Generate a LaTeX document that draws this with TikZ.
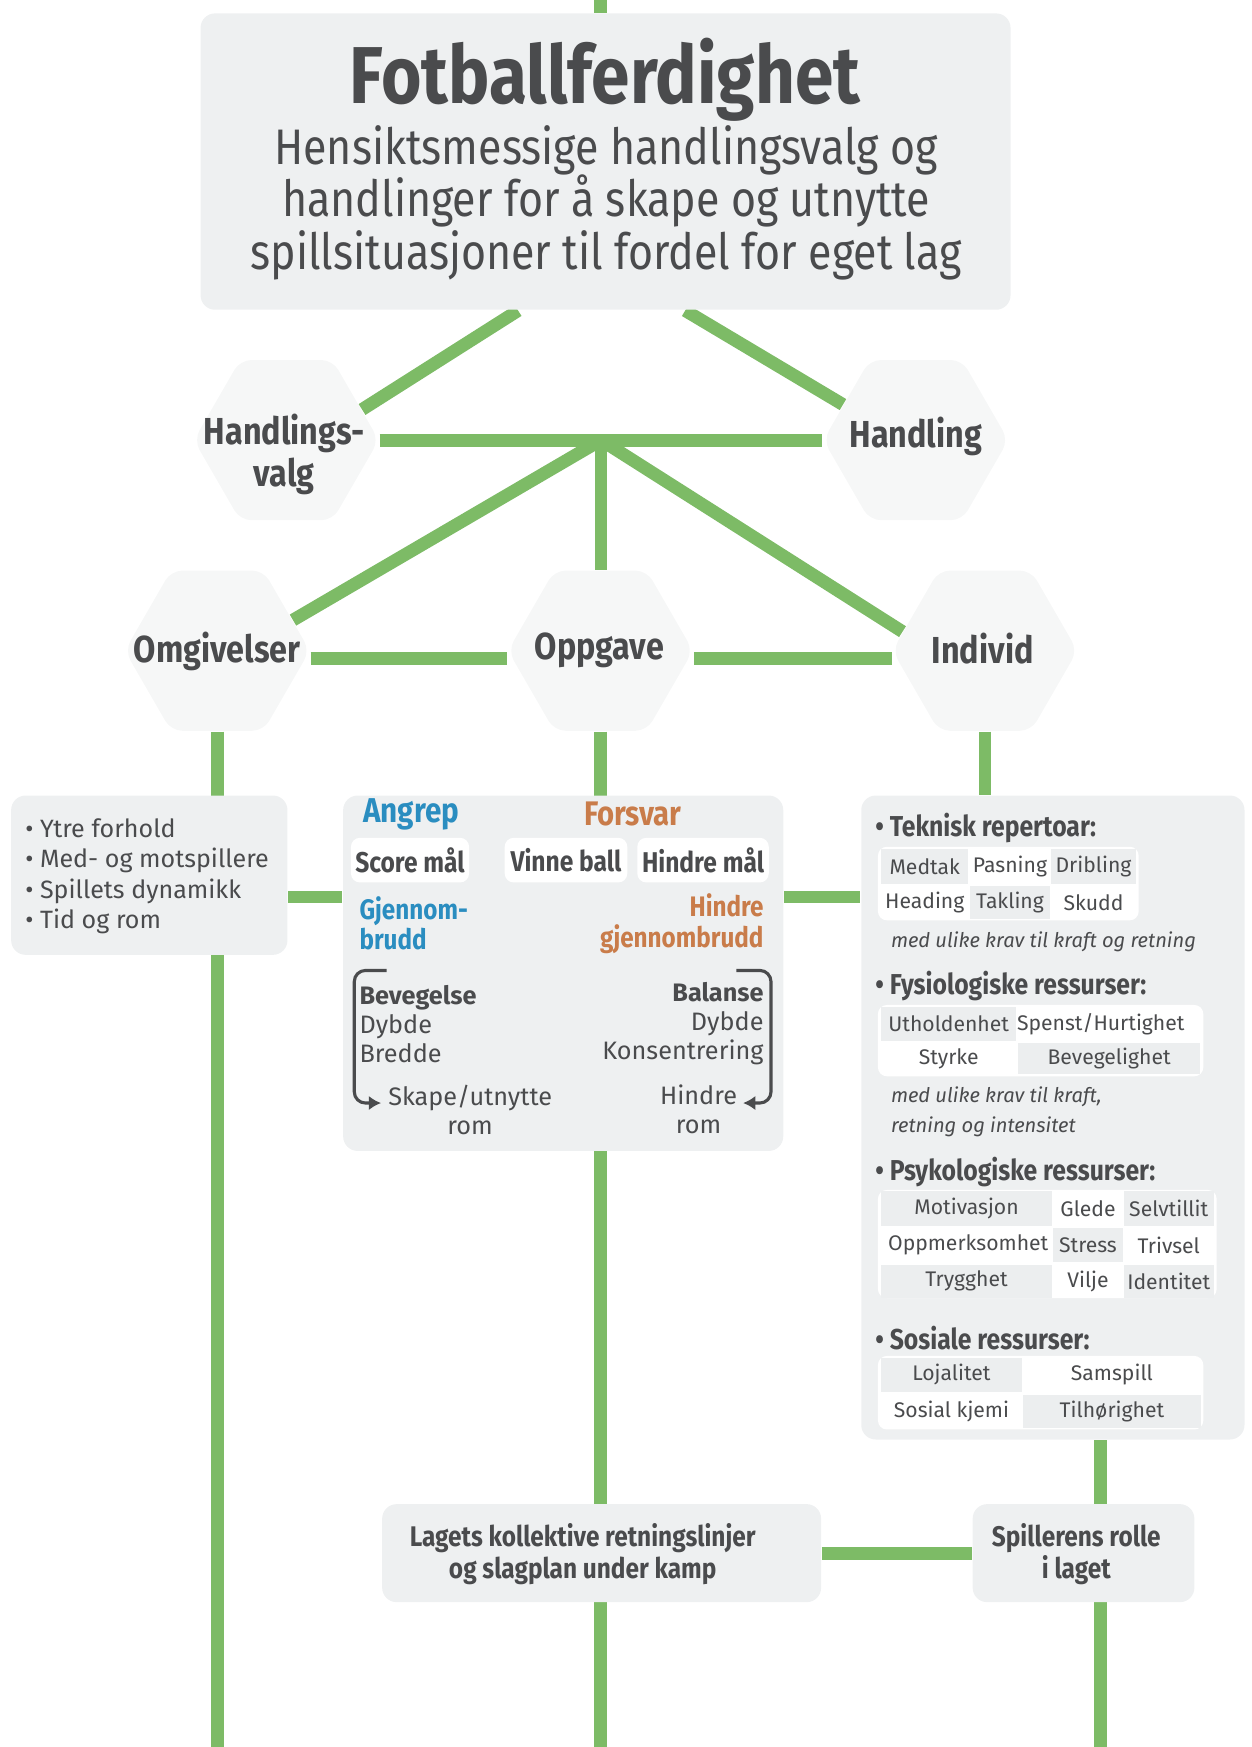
\documentclass[tikz,border=0pt]{standalone}
\usepackage{fontspec}
\setmainfont{Fira Sans}
\newfontfamily\condfont[FakeStretch=0.86]{Fira Sans}
\usepackage{xcolor}
\usepackage{tikz}
\usetikzlibrary{positioning,shapes.geometric,arrows.meta,backgrounds,calc}
\definecolor{cgreen}{HTML}{7DBB66}
\definecolor{cpanel}{HTML}{EEF0F1}
\definecolor{chex}{HTML}{F6F7F7}
\definecolor{ccell}{HTML}{ECEEEF}
\definecolor{ctext}{HTML}{4A4B4D}
\definecolor{cblue}{HTML}{2A8DC0}
\definecolor{corange}{HTML}{C97C4A}

\begin{document}
\begin{tikzpicture}[x=0.1mm,y=-0.1mm,
  link/.style={cgreen,line width=1.15mm},
  panel/.style={fill=cpanel,rounded corners=1.3mm,inner sep=0pt,text=ctext},
  hexa/.style={regular polygon,regular polygon sides=6,minimum size=16.6mm,inner sep=0pt,fill=chex,rounded corners=1mm},
  hexlab/.style={text=ctext,align=center,inner sep=0pt,font={\condfont\bfseries\fontsize{9.6}{10.6}\selectfont}},
  tile/.style={fill=white,rounded corners=0.8mm,inner sep=0pt,minimum height=4mm,text=ctext,font={\condfont\bfseries\fontsize{7.3}{8}\selectfont}},
  tabbg/.style={fill=white,rounded corners=0.8mm,inner sep=0pt},
  cell/.style={inner sep=0pt,text=ctext,font={\fontsize{5.4}{6.5}\selectfont}},
  gcell/.style={cell,fill=ccell},
  head/.style={anchor=west,inner sep=0pt,text=ctext,font={\condfont\bfseries\fontsize{7.35}{8}\selectfont}},
  note/.style={anchor=west,align=left,inner sep=0pt,text=ctext,font={\itshape\fontsize{5.15}{7.6}\selectfont}},
  body/.style={inner sep=0pt,text=ctext,font={\fontsize{6.45}{7.4}\selectfont}},
  lag/.style={inner sep=0pt,text=ctext,align=center,font={\condfont\bfseries\fontsize{7.25}{8}\selectfont}},
  bracket/.style={ctext,line width=0.28mm,rounded corners=1mm}
]
\useasboundingbox (0,0) rectangle (1123,1568);

% top box
\node[panel,minimum width=72.7mm,minimum height=26.6mm] (top) at (543.5,145) {};
\node[inner sep=0pt,text=ctext,font={\condfont\bfseries\fontsize{20.6}{22}\selectfont},anchor=base] (ttl) at (543,93) {Fotballferdighet};
\node[inner sep=0pt,text=ctext,align=center,font={\condfont\fontsize{12.75}{13.5}\selectfont}] (sub) at (544,182)
  {Hensiktsmessige handlingsvalg og\\handlinger for å skape og utnytte\\spillsituasjoner til fordel for eget lag};

% hexagons
\node[hexa] (hv) at (257,395) {};
\node[hexlab] (hvlab) at (255,408) {Handlings-\\valg};
\node[hexa] (hd) at (822,395) {};
\node[hexlab] (hdlab) at (822,392) {Handling};
\node[hexa] (om) at (195,584) {};
\node[hexlab] (omlab) at (195,585) {Omgivelser};
\node[hexa] (op) at (539,584) {};
\node[hexlab] (oplab) at (538,584) {Oppgave};
\node[hexa] (in) at (884,584) {};
\node[hexlab] (inlab) at (882,582) {Individ};

% panels
\node[panel,minimum width=24.8mm,minimum height=14.3mm] (lb) at (134,785.5) {};
\node[panel,minimum width=39.5mm,minimum height=31.9mm] (mb) at (505.5,873.5) {};
\node[panel,minimum width=34.4mm,minimum height=57.8mm] (rb) at (945,1003) {};
\node[panel,minimum width=39.4mm,minimum height=8.8mm] (lk) at (540,1394) {};
\node[lag] (lktxt) at (523,1395) {Lagets kollektive retningslinjer\\og slagplan under kamp};
\node[panel,minimum width=19.9mm,minimum height=8.8mm] (sp) at (972.5,1394) {};
\node[lag] (sptxt) at (966,1395) {Spillerens rolle\\i laget};

\coordinate (topend) at (539,0);
\coordinate (rowy) at (0,805);
\coordinate (omend) at (195,1568);
\coordinate (opend) at (539,1568);
\coordinate (spend) at (988,1568);
\coordinate (jn) at ($(hv.east)!0.5!(hd.west)$);

% left box
\node[body,anchor=west,align=left,font={\fontsize{6.4}{7.8}\selectfont}] (omtxt) at (22,786.5)
  {• Ytre forhold\\• Med- og motspillere\\• Spillets dynamikk\\• Tid og rom};

% middle box
\node[inner sep=0pt,text=cblue,font={\condfont\bfseries\fontsize{8.8}{9}\selectfont}] (angrep) at (369,731) {Angrep};
\node[inner sep=0pt,text=corange,font={\condfont\bfseries\fontsize{8.7}{9}\selectfont}] (forsvar) at (568,731) {Forsvar};
\node[tile,minimum width=10.6mm] (score) at (368,772) {Score mål};
\node[tile,minimum width=11mm] (vinne) at (508,772) {Vinne ball};
\node[tile,minimum width=11.8mm] (hindre) at (631,772) {Hindre mål};
\node[inner sep=0pt,anchor=west,align=left,text=cblue,font={\condfont\bfseries\fontsize{7.2}{7.7}\selectfont}] (gjb) at (322,829) {Gjennom-\\brudd};
\node[inner sep=0pt,anchor=east,align=right,text=corange,font={\condfont\bfseries\fontsize{7.2}{7.7}\selectfont}] (hgjb) at (686,829) {Hindre\\gjennombrudd};
\node[body,anchor=west,align=left] (bev) at (322,919) {\textbf{Bevegelse}\\Dybde\\Bredde};
\node[body,anchor=east,align=right] (bal) at (686,919) {\textbf{Balanse}\\Dybde\\Konsentrering};
\node[body,align=center] (skape) at (422,996) {Skape/utnytte\\rom};
\node[body,align=center] (hrom) at (627,996) {Hindre\\rom};
\draw[bracket,-{Latex[length=1.1mm,width=1.3mm]}] (347,871) -- (318,871) -- (318,990) -- (342,990);
\draw[bracket,-{Latex[length=1.1mm,width=1.3mm]}] (661,871) -- (692,871) -- (692,990) -- (667,990);

% right box
\node[head] (tek) at (785,743) {• Teknisk repertoar:};
\node[tabbg,minimum width=23.4mm,minimum height=6.6mm] (tb1) at (905,793) {};
\node[gcell,minimum width=7.8mm,minimum height=3.1mm] (medtak) at (830,777.5) {Medtak};
\node[cell,minimum width=7.3mm,minimum height=3.1mm] (pasning) at (906.5,777.5) {Pasning};
\node[gcell,minimum width=7.6mm,minimum height=3.1mm] (dribling) at (981.5,777.5) {Dribling};
\node[cell,minimum width=7.8mm,minimum height=3mm] (heading) at (830,810) {Heading};
\node[gcell,minimum width=7.2mm,minimum height=3mm] (takling) at (906.5,810) {Takling};
\node[cell,minimum width=7.6mm,minimum height=3mm] (skudd) at (981.5,810) {Skudd};
\node[note] (n1) at (799,845) {med ulike krav til kraft og retning};

\node[head] (fys) at (785,885) {• Fysiologiske ressurser:};
\node[tabbg,minimum width=29.2mm,minimum height=6.4mm] (tb2) at (934,934) {};
\node[gcell,minimum width=12.1mm,minimum height=3mm] (uth) at (851.5,919) {Utholdenhet};
\node[cell,minimum width=16.3mm,minimum height=3mm] (spenst) at (988,919) {Spenst/Hurtighet};
\node[cell,minimum width=12.1mm,minimum height=2.8mm] (styrke) at (851.5,950) {Styrke};
\node[gcell,minimum width=16.3mm,minimum height=2.8mm] (beveg) at (995.5,950) {Bevegelighet};
\node[note] (n2) at (799,998) {med ulike krav til kraft,\\retning og intensitet};

\node[head] (psy) at (785,1052) {• Psykologiske ressurser:};
\node[tabbg,minimum width=30.4mm,minimum height=9.7mm] (tb3) at (940,1116.5) {};
\node[gcell,minimum width=15.4mm,minimum height=3.1mm] (motiv) at (867.5,1084.5) {Motivasjon};
\node[cell,minimum width=6.2mm,minimum height=3.1mm] (glede) at (976.5,1084.5) {Glede};
\node[gcell,minimum width=8.1mm,minimum height=3.1mm] (selvt) at (1049,1084.5) {Selvtillit};
\node[cell,minimum width=15.4mm,minimum height=3.1mm] (oppm) at (869,1117.5) {Oppmerksomhet};
\node[gcell,minimum width=6.2mm,minimum height=3.1mm] (stress) at (976.5,1117.5) {Stress};
\node[cell,minimum width=8.1mm,minimum height=3.1mm] (trivsel) at (1049,1117.5) {Trivsel};
\node[gcell,minimum width=15.4mm,minimum height=3mm] (trygg) at (867.5,1150) {Trygghet};
\node[cell,minimum width=6.2mm,minimum height=3mm] (vilje) at (976.5,1150) {Vilje};
\node[gcell,minimum width=8.1mm,minimum height=3mm] (ident) at (1049,1150) {Identitet};

\node[head] (sos) at (785,1201) {• Sosiale ressurser:};
\node[tabbg,minimum width=29.2mm,minimum height=6.6mm] (tb4) at (934,1250) {};
\node[gcell,minimum width=12.7mm,minimum height=3.1mm] (lojal) at (854,1234) {Lojalitet};
\node[cell,minimum width=15.9mm,minimum height=3.1mm] (samspill) at (998,1234) {Samspill};
\node[cell,minimum width=12.7mm,minimum height=3mm] (kjemi) at (854,1267) {Sosial kjemi};
\node[gcell,minimum width=15.9mm,minimum height=3mm] (tilh) at (998,1267) {Tilhørighet};

% green links
\begin{scope}[on background layer]
  \draw[link] (topend) -- (topend |- top.north);
  \draw[link] ($(top.south)+(-78.5,0)$) -- (hv.22);
  \draw[link] ($(top.south)+(71.5,0)$) -- (hd.154);
  \draw[link] (hv.east) -- (hd.west);
  \draw[link] (jn) -- (jn |- op.north);
  \draw[link] (jn) -- (om.22);
  \draw[link] (jn) -- (in.167);
  \draw[link] ([yshift=-0.7mm]om.east) -- ([yshift=-0.7mm]op.west);
  \draw[link] ([yshift=-0.7mm]op.east) -- ([yshift=-0.7mm]in.west);
  \draw[link] (om.south) -- (omend);
  \draw[link] (op.south) -- (opend);
  \draw[link] (in.south) -- (in.south |- rb.north);
  \draw[link] (rb.south -| spend) -- (spend);
  \draw[link] (lb.east |- rowy) -- (mb.west |- rowy);
  \draw[link] (mb.east |- rowy) -- (rb.west |- rowy);
  \draw[link] (lk.east) -- (sp.west);
\end{scope}
\end{tikzpicture}
\end{document}
